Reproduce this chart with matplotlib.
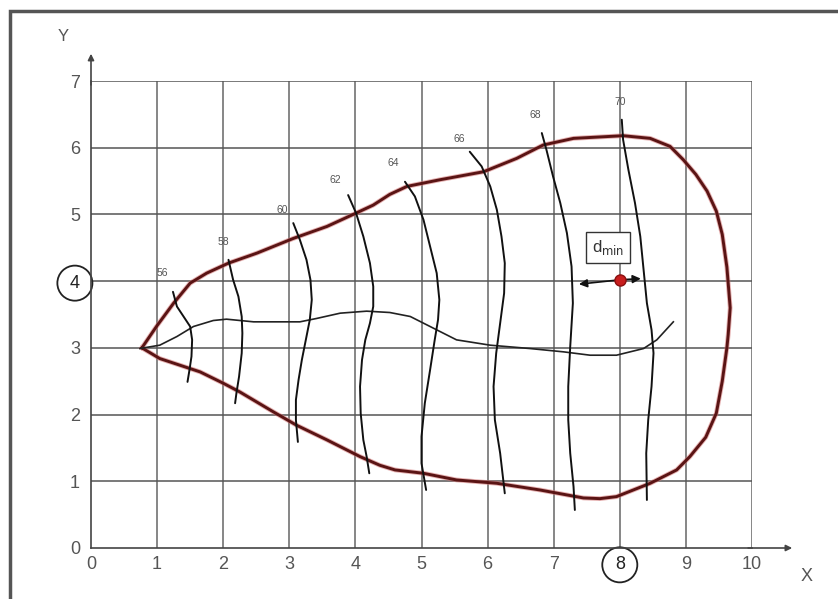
import numpy as np
import matplotlib.pyplot as plt
from matplotlib.patches import Rectangle

plt.rcParams['font.family'] = ['Liberation Sans', 'DejaVu Sans']

# data
x_ticks = [0, 1, 2, 3, 4, 5, 6, 7, 8, 9, 10]
y_ticks = [0, 1, 2, 3, 4, 5, 6, 7]

outline_x = [0.77, 0.99, 1.25, 1.50, 1.75, 2.08, 2.51, 3.06, 3.57, 4.01, 4.27, 4.52, 4.78,
             5.28, 5.94, 6.44, 6.84, 7.30, 8.05, 8.46, 8.76, 8.96, 9.15, 9.32, 9.46, 9.55,
             9.62, 9.67, 9.64, 9.62, 9.55, 9.46, 9.30, 9.06, 8.86, 8.46, 7.95, 7.70, 7.45,
             6.79, 6.14, 5.53, 5.03, 4.60, 4.37, 4.07, 3.57, 3.11, 2.76, 2.25, 2.00, 1.65,
             1.04, 0.77]
outline_y = [3.00, 3.32, 3.67, 3.97, 4.12, 4.27, 4.42, 4.64, 4.82, 5.02, 5.14, 5.30, 5.42,
             5.52, 5.64, 5.84, 6.04, 6.14, 6.18, 6.14, 6.02, 5.82, 5.60, 5.35, 5.05, 4.70,
             4.21, 3.60, 3.20, 3.00, 2.50, 2.02, 1.66, 1.37, 1.17, 0.97, 0.77, 0.74, 0.75,
             0.87, 0.97, 1.02, 1.12, 1.17, 1.24, 1.37, 1.62, 1.84, 2.04, 2.34, 2.47, 2.64,
             2.84, 3.00]

spine_x = [0.74, 1.04, 1.30, 1.55, 1.85, 2.05, 2.46, 3.16, 3.41, 3.77, 4.17, 4.52, 4.83,
           5.13, 5.53, 6.04, 6.64, 7.15, 7.55, 7.95, 8.36, 8.56, 8.81]
spine_y = [2.99, 3.04, 3.17, 3.32, 3.41, 3.43, 3.39, 3.39, 3.44, 3.52, 3.55, 3.53, 3.47,
           3.32, 3.12, 3.04, 2.99, 2.94, 2.89, 2.89, 2.99, 3.12, 3.39]

iso_levels = ['56', '58', '60', '62', '64', '66', '68', '70']
iso_label_x = [1.08, 2.0, 2.9, 3.7, 4.57, 5.57, 6.72, 8.0]
iso_label_y = [4.12, 4.59, 5.07, 5.52, 5.77, 6.13, 6.49, 6.69]

iso56_x = [1.24, 1.30, 1.40, 1.50, 1.53, 1.52, 1.49, 1.46]
iso56_y = [3.84, 3.62, 3.47, 3.32, 3.12, 2.87, 2.67, 2.49]
iso58_x = [2.08, 2.15, 2.23, 2.28, 2.29, 2.28, 2.24, 2.20, 2.18]
iso58_y = [4.32, 4.02, 3.77, 3.47, 3.22, 2.92, 2.57, 2.32, 2.17]
iso60_x = [3.06, 3.16, 3.26, 3.32, 3.34, 3.31, 3.25, 3.19, 3.14, 3.10, 3.10, 3.13]
iso60_y = [4.87, 4.62, 4.32, 4.02, 3.72, 3.42, 3.12, 2.82, 2.52, 2.22, 1.92, 1.59]
iso62_x = [3.89, 4.01, 4.12, 4.22, 4.27, 4.27, 4.22, 4.15, 4.10, 4.07, 4.08, 4.12, 4.17, 4.21]
iso62_y = [5.29, 5.02, 4.67, 4.27, 3.92, 3.62, 3.37, 3.12, 2.82, 2.42, 2.02, 1.62, 1.37, 1.12]
iso64_x = [4.75, 4.90, 5.03, 5.13, 5.23, 5.27, 5.25, 5.20, 5.13, 5.05, 5.00, 5.00, 5.07]
iso64_y = [5.49, 5.27, 4.92, 4.52, 4.12, 3.72, 3.42, 3.12, 2.67, 2.17, 1.67, 1.27, 0.87]
iso66_x = [5.73, 5.91, 6.04, 6.14, 6.21, 6.26, 6.25, 6.19, 6.13, 6.09, 6.11, 6.19, 6.26]
iso66_y = [5.94, 5.72, 5.42, 5.07, 4.67, 4.27, 3.82, 3.37, 2.92, 2.42, 1.92, 1.42, 0.82]
iso68_x = [6.82, 6.89, 6.99, 7.10, 7.20, 7.27, 7.29, 7.25, 7.22, 7.22, 7.25, 7.30, 7.32]
iso68_y = [6.22, 5.97, 5.57, 5.17, 4.72, 4.22, 3.67, 3.02, 2.42, 1.92, 1.42, 0.92, 0.57]
iso70_x = [8.03, 8.05, 8.13, 8.23, 8.31, 8.36, 8.41, 8.48, 8.51, 8.48, 8.43, 8.40, 8.41]
iso70_y = [6.42, 6.12, 5.67, 5.17, 4.67, 4.17, 3.67, 3.27, 2.92, 2.42, 1.92, 1.42, 0.72]

point_x, point_y = 8.0, 4.02
arrow_left = (7.34, 3.95)
arrow_right = (8.36, 4.04)

iso_x = [iso56_x, iso58_x, iso60_x, iso62_x, iso64_x, iso66_x, iso68_x, iso70_x]
iso_y = [iso56_y, iso58_y, iso60_y, iso62_y, iso64_y, iso66_y, iso68_y, iso70_y]

fig = plt.figure(figsize=(8.38, 5.99), dpi=100)
ax = fig.add_axes([91 / 838, 51 / 599, 661 / 838, 467 / 599])
ax.set_xlim(0, 10)
ax.set_ylim(0, 7)

# grid
ax.vlines(x_ticks[1:], 0, 7, color='#666666', lw=1.1, zorder=1)
ax.hlines(y_ticks[1:], 0, 10, color='#555555', lw=1.1, zorder=1)

for s in ['top', 'right']:
    ax.spines[s].set_visible(False)
for s in ['left', 'bottom']:
    ax.spines[s].set_color('#444444')
    ax.spines[s].set_linewidth(1.2)

ax.set_xticks(x_ticks)
ax.set_yticks(y_ticks)
ax.tick_params(length=0, labelsize=13, labelcolor='#555555')
ax.tick_params(axis='x', pad=6)
ax.tick_params(axis='y', pad=8)

# axis arrows
ax.annotate('', xy=(10.65, 0), xytext=(9.9, 0), annotation_clip=False,
            arrowprops=dict(arrowstyle='-|>', color='#444444', lw=1.2, mutation_scale=9))
ax.annotate('', xy=(0, 7.45), xytext=(0, 6.9), annotation_clip=False,
            arrowprops=dict(arrowstyle='-|>', color='#444444', lw=1.2, mutation_scale=9))
ax.text(10.82, -0.43, 'X', fontsize=13, color='#555555', ha='center', va='center', clip_on=False)
ax.text(-0.42, 7.66, 'Y', fontsize=12, color='#555555', ha='center', va='center', clip_on=False)

# circled tick labels
for lab in ax.get_yticklabels():
    if lab.get_text() == '4':
        lab.set_color('#222222')
        lab.set_bbox(dict(boxstyle='circle,pad=0.5', fc='none', ec='#222222', lw=1.3))
for lab in ax.get_xticklabels():
    if lab.get_text() == '8':
        lab.set_color('#222222')
        lab.set_bbox(dict(boxstyle='circle,pad=0.5', fc='none', ec='#222222', lw=1.3))

# outline
ax.plot(outline_x, outline_y, color='#d07070', lw=3.4, alpha=0.55, zorder=3,
        solid_joinstyle='round')
ax.plot(outline_x, outline_y, color='#5a1414', lw=2.1, zorder=4, solid_joinstyle='round')

# middle line
ax.plot(spine_x, spine_y, color='#222222', lw=1.2, zorder=4, solid_joinstyle='round')

# isolines
for xs, ys in zip(iso_x, iso_y):
    ax.plot(xs, ys, color='#111111', lw=1.4, zorder=5, solid_joinstyle='round',
            solid_capstyle='round')
for lev, lx, ly in zip(iso_levels, iso_label_x, iso_label_y):
    ax.text(lx, ly, lev, fontsize=7.5, color='#555555', ha='center', va='center')

# d_min
ax.text(7.82, 4.5, r'd$_{\mathrm{min}}$', fontsize=12, color='#333333', ha='center', va='center',
        bbox=dict(boxstyle='square,pad=0.35', fc='white', ec='#333333', lw=1.0), zorder=6)
ax.annotate('', xy=arrow_left, xytext=(point_x, point_y),
            arrowprops=dict(arrowstyle='-|>', color='#111111', lw=1.2, mutation_scale=12), zorder=6)
ax.annotate('', xy=arrow_right, xytext=(point_x, point_y),
            arrowprops=dict(arrowstyle='-|>', color='#111111', lw=1.2, mutation_scale=12), zorder=6)
ax.plot(point_x, point_y, 'o', color='#c81e1e', mec='#8a1010', ms=8, zorder=7)

# outer frame
fig.patches.append(Rectangle((10 / 838, -0.1), 1.2, 0.1 + 588 / 599, transform=fig.transFigure,
                             fill=False, ec='#555555', lw=2.5))

plt.savefig('out.png', dpi=100)
